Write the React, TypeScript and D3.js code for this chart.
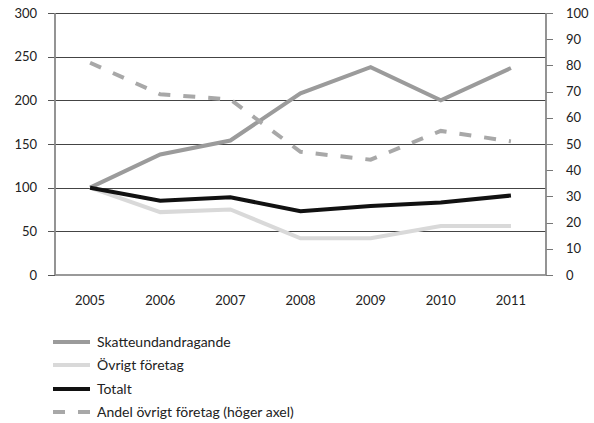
import React from "react";
import * as d3 from "d3";

const years = ["2005", "2006", "2007", "2008", "2009", "2010", "2011"];
const skatteundandragande = [100, 138, 154, 208, 238, 200, 237];
const ovrigtForetag = [100, 72, 75, 42, 42, 56, 56];
const totalt = [100, 85, 89, 73, 79, 83, 91];
const andelOvrigt = [81, 69, 67, 47, 44, 55, 51];
const leftTicks = [0, 50, 100, 150, 200, 250, 300];
const rightTicks = [0, 10, 20, 30, 40, 50, 60, 70, 80, 90, 100];

const seriesInfo = [
  { name: "Skatteundandragande", color: "#9b9b9b", dash: "" },
  { name: "Övrigt företag", color: "#d9d9d9", dash: "" },
  { name: "Totalt", color: "#111111", dash: "" },
  { name: "Andel övrigt företag (höger axel)", color: "#a8a8a8", dash: "12 13" },
];

export default function App() {
  const W = 594, H = 423;
  const left = 55, right = 546, top = 13, bottom = 275;
  const x = d3.scalePoint<string>().domain(years).range([left, right]).padding(0.5);
  const yL = d3.scaleLinear().domain([0, 300]).range([bottom, top]);
  const yR = d3.scaleLinear().domain([0, 100]).range([bottom, top]);
  const lineL = d3.line<number>().x((_, i) => x(years[i])!).y((d) => yL(d));
  const lineR = d3.line<number>().x((_, i) => x(years[i])!).y((d) => yR(d));
  const font = "Lato, 'Open Sans', sans-serif";

  const legendY = [342, 365, 389, 412];

  return (
    <svg width={W} height={H} style={{ position: "absolute", left: 0, top: 0 }} fontFamily={font}>
      <rect width={W} height={H} fill="#fff" />
      {leftTicks.filter((t) => t > 0).map((t) => (
        <line key={"g" + t} x1={left} x2={right} y1={Math.round(yL(t)) + 0.5} y2={Math.round(yL(t)) + 0.5} stroke="#444" strokeWidth={1} />
      ))}
      {leftTicks.map((t) => (
        <g key={"lt" + t}>
          <line x1={48} x2={left} y1={Math.round(yL(t)) + 0.5} y2={Math.round(yL(t)) + 0.5} stroke="#555" strokeWidth={1} />
          <text x={37} y={yL(t)} dy="0.35em" textAnchor="end" fontSize={13} fill="#222">{t}</text>
        </g>
      ))}
      {rightTicks.map((t) => (
        <g key={"rt" + t}>
          <line x1={right} x2={553} y1={Math.round(yR(t)) + 0.5} y2={Math.round(yR(t)) + 0.5} stroke="#777" strokeWidth={1} />
          <text x={566} y={yR(t)} dy="0.35em" textAnchor="start" fontSize={13} fill="#222">{t}</text>
        </g>
      ))}
      <line x1={left} x2={right} y1={bottom} y2={bottom} stroke="#777" strokeWidth={1.5} />
      <line x1={left} x2={left} y1={top} y2={bottom} stroke="#888" strokeWidth={1.8} />
      <line x1={right} x2={right} y1={top} y2={bottom} stroke="#888" strokeWidth={1.8} />
      {years.map((yr) => (
        <text key={yr} x={x(yr)!} y={300} dy="0.35em" textAnchor="middle" fontSize={13} fill="#222">{yr}</text>
      ))}
      <path d={lineL(ovrigtForetag)!} fill="none" stroke={seriesInfo[1].color} strokeWidth={4} />
      <path d={lineL(skatteundandragande)!} fill="none" stroke={seriesInfo[0].color} strokeWidth={4} />
      <path d={lineR(andelOvrigt)!} fill="none" stroke={seriesInfo[3].color} strokeWidth={4} strokeDasharray={seriesInfo[3].dash} />
      <path d={lineL(totalt)!} fill="none" stroke={seriesInfo[2].color} strokeWidth={4} />
      {seriesInfo.map((s, i) => (
        <g key={s.name}>
          <line x1={53} x2={90} y1={legendY[i]} y2={legendY[i]} stroke={s.color} strokeWidth={4}
            strokeDasharray={s.dash ? "12 13" : undefined} />
          <text x={97} y={legendY[i]} dy="0.35em" fontSize={14} fill="#222">{s.name}</text>
        </g>
      ))}
    </svg>
  );
}
